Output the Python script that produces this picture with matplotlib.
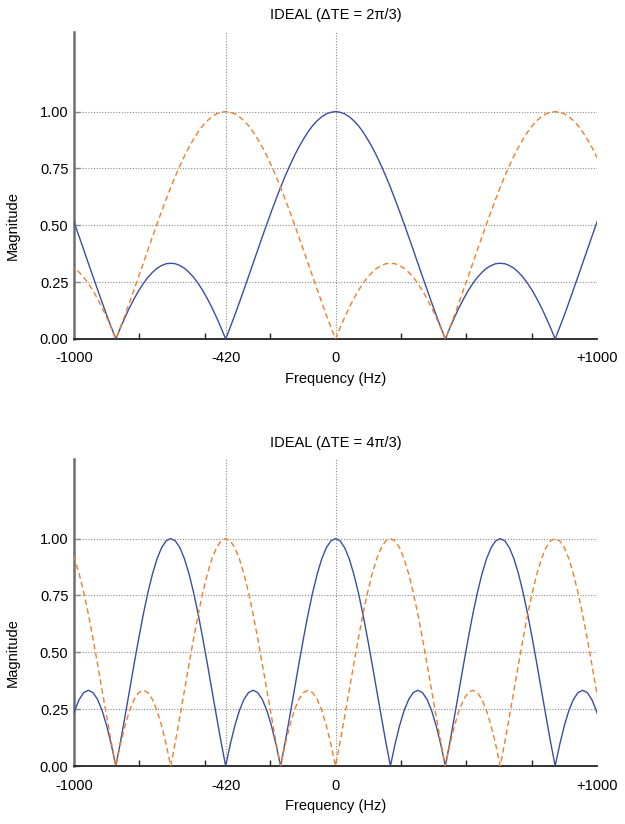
import matplotlib
matplotlib.use("Agg")
import matplotlib.pyplot as plt
import numpy as np

plt.rcParams['font.family'] = ['Liberation Sans', 'DejaVu Sans']

# frequency samples (Hz), one every 17.5 Hz
freq = np.arange(-1015, 1016, 17.5)

# values (magnitude), top panel: dTE = 2pi/3
water_top = [0.561, 0.506, 0.449, 0.391, 0.333, 0.275, 0.218, 0.161, 0.105, 0.052,
             0.000, 0.049, 0.095, 0.138, 0.177, 0.213, 0.244, 0.271, 0.293, 0.311,
             0.323, 0.331, 0.333, 0.331, 0.323, 0.311, 0.293, 0.271, 0.244, 0.213,
             0.177, 0.138, 0.095, 0.049, 0.000, 0.052, 0.105, 0.161, 0.218, 0.275,
             0.333, 0.391, 0.449, 0.506, 0.561, 0.615, 0.667, 0.716, 0.762, 0.805,
             0.844, 0.879, 0.911, 0.938, 0.960, 0.977, 0.990, 0.997,
             1.000, 0.997, 0.990, 0.977, 0.960, 0.938, 0.911, 0.879, 0.844, 0.805,
             0.762, 0.716, 0.667, 0.615, 0.561, 0.506, 0.449, 0.391, 0.333, 0.275,
             0.218, 0.161, 0.105, 0.052, 0.000, 0.049, 0.095, 0.138, 0.177, 0.213,
             0.244, 0.271, 0.293, 0.311, 0.323, 0.331, 0.333, 0.331, 0.323, 0.311,
             0.293, 0.271, 0.244, 0.213, 0.177, 0.138, 0.095, 0.049, 0.000, 0.052,
             0.105, 0.161, 0.218, 0.275, 0.333, 0.391, 0.449, 0.506, 0.561]
fat_top = [0.323, 0.311, 0.293, 0.271, 0.244, 0.213, 0.177, 0.138, 0.095, 0.049,
           0.000, 0.052, 0.105, 0.161, 0.218, 0.275, 0.333, 0.391, 0.449, 0.506,
           0.561, 0.615, 0.667, 0.716, 0.762, 0.805, 0.844, 0.879, 0.911, 0.938,
           0.960, 0.977, 0.990, 0.997,
           1.000, 0.997, 0.990, 0.977, 0.960, 0.938, 0.911, 0.879, 0.844, 0.805,
           0.762, 0.716, 0.667, 0.615, 0.561, 0.506, 0.449, 0.391, 0.333, 0.275,
           0.218, 0.161, 0.105, 0.052, 0.000, 0.049, 0.095, 0.138, 0.177, 0.213,
           0.244, 0.271, 0.293, 0.311, 0.323, 0.331, 0.333, 0.331, 0.323, 0.311,
           0.293, 0.271, 0.244, 0.213, 0.177, 0.138, 0.095, 0.049, 0.000, 0.052,
           0.105, 0.161, 0.218, 0.275, 0.333, 0.391, 0.449, 0.506, 0.561, 0.615,
           0.667, 0.716, 0.762, 0.805, 0.844, 0.879, 0.911, 0.938, 0.960, 0.977,
           0.990, 0.997,
           1.000, 0.997, 0.990, 0.977, 0.960, 0.938, 0.911, 0.879, 0.844, 0.805,
           0.762]

# bottom panel: dTE = 4pi/3
water_bot = [0.177, 0.244, 0.293, 0.323, 0.333, 0.323, 0.293, 0.244, 0.177, 0.095,
             0.000, 0.105, 0.218, 0.333, 0.449, 0.561, 0.667, 0.762, 0.844, 0.911,
             0.960, 0.990,
             1.000, 0.990, 0.960, 0.911, 0.844, 0.762, 0.667, 0.561, 0.449, 0.333,
             0.218, 0.105, 0.000, 0.095, 0.177, 0.244, 0.293, 0.323, 0.333, 0.323,
             0.293, 0.244, 0.177, 0.095, 0.000, 0.105, 0.218, 0.333, 0.449, 0.561,
             0.667, 0.762, 0.844, 0.911, 0.960, 0.990,
             1.000, 0.990, 0.960, 0.911, 0.844, 0.762, 0.667, 0.561, 0.449, 0.333,
             0.218, 0.105, 0.000, 0.095, 0.177, 0.244, 0.293, 0.323, 0.333, 0.323,
             0.293, 0.244, 0.177, 0.095, 0.000, 0.105, 0.218, 0.333, 0.449, 0.561,
             0.667, 0.762, 0.844, 0.911, 0.960, 0.990,
             1.000, 0.990, 0.960, 0.911, 0.844, 0.762, 0.667, 0.561, 0.449, 0.333,
             0.218, 0.105, 0.000, 0.095, 0.177, 0.244, 0.293, 0.323, 0.333, 0.323,
             0.293, 0.244, 0.177]
fat_bot = [0.960, 0.911, 0.844, 0.762, 0.667, 0.561, 0.449, 0.333, 0.218, 0.105,
           0.000, 0.095, 0.177, 0.244, 0.293, 0.323, 0.333, 0.323, 0.293, 0.244,
           0.177, 0.095, 0.000, 0.105, 0.218, 0.333, 0.449, 0.561, 0.667, 0.762,
           0.844, 0.911, 0.960, 0.990,
           1.000, 0.990, 0.960, 0.911, 0.844, 0.762, 0.667, 0.561, 0.449, 0.333,
           0.218, 0.105, 0.000, 0.095, 0.177, 0.244, 0.293, 0.323, 0.333, 0.323,
           0.293, 0.244, 0.177, 0.095, 0.000, 0.105, 0.218, 0.333, 0.449, 0.561,
           0.667, 0.762, 0.844, 0.911, 0.960, 0.990,
           1.000, 0.990, 0.960, 0.911, 0.844, 0.762, 0.667, 0.561, 0.449, 0.333,
           0.218, 0.105, 0.000, 0.095, 0.177, 0.244, 0.293, 0.323, 0.333, 0.323,
           0.293, 0.244, 0.177, 0.095, 0.000, 0.105, 0.218, 0.333, 0.449, 0.561,
           0.667, 0.762, 0.844, 0.911, 0.960, 0.990,
           1.000, 0.990, 0.960, 0.911, 0.844, 0.762, 0.667, 0.561, 0.449, 0.333,
           0.218]

titles = ["IDEAL (\u0394TE = 2\u03c0/3)", "IDEAL (\u0394TE = 4\u03c0/3)"]
xtick_pos = [-1000, -420, 0, 1000]
xtick_lab = ["-1000", "-420", "0", "+1000"]
ytick_pos = [0, 0.25, 0.5, 0.75, 1.0]
vlines = [-420, 0]

blue = '#3a4f9f'
orange = '#ee7f2d'

fig = plt.figure(figsize=(6.25, 8.24), dpi=100)
W, H = 625., 824.
# axes boxes in pixels: left, right, top, bottom
boxes = [(74, 597, 32, 339), (74, 597, 459, 766)]

for i, (l, r, t, b) in enumerate(boxes):
    ax = fig.add_axes([l/W, 1-b/H, (r-l)/W, (b-t)/H])
    water = [water_top, water_bot][i]
    fat = [fat_top, fat_bot][i]

    # grid
    for yv in ytick_pos[1:]:
        ax.axhline(yv, color='#8a8a8a', ls=(0, (1, 1.5)), lw=0.8, zorder=1)
    for xv in vlines:
        ax.axvline(xv, color='#8a8a8a', ls=(0, (1, 1.5)), lw=0.8, zorder=1)

    ax.plot(freq, water, color=blue, lw=1.0, zorder=3)
    ax.plot(freq, fat, color=orange, lw=1.0, ls=(0, (4, 2.5)), zorder=3)

    ax.set_xlim(-1000, 1000)
    ax.set_ylim(0, 1.35)

    ax.spines['top'].set_visible(False)
    ax.spines['right'].set_visible(False)
    ax.spines['left'].set_color('#6e6e6e')
    ax.spines['left'].set_linewidth(1.8)
    ax.spines['bottom'].set_color('#222222')
    ax.spines['bottom'].set_linewidth(1.3)

    ax.set_xticks(xtick_pos)
    ax.set_xticklabels(xtick_lab, fontsize=10.5)
    ax.set_xticks(np.arange(-1000, 1001, 250), minor=True)
    ax.tick_params(axis='x', which='major', length=0, pad=9)
    ax.tick_params(axis='x', which='minor', direction='in', length=4, width=1, color='#222222')
    ax.set_yticks(ytick_pos)
    ax.set_yticklabels(["%.2f" % v for v in ytick_pos], fontsize=10.5)
    ax.tick_params(axis='y', direction='in', length=4, width=1, color='#8a8a8a', pad=4)

    ax.set_title(titles[i], fontsize=10.5, pad=9)
    ax.set_xlabel("Frequency (Hz)", fontsize=10.5, labelpad=5)
    ax.set_ylabel("Magnitude", fontsize=10.5)
    ax.yaxis.set_label_coords(-0.103, 0.37)

fig.savefig("out.png", dpi=100)
